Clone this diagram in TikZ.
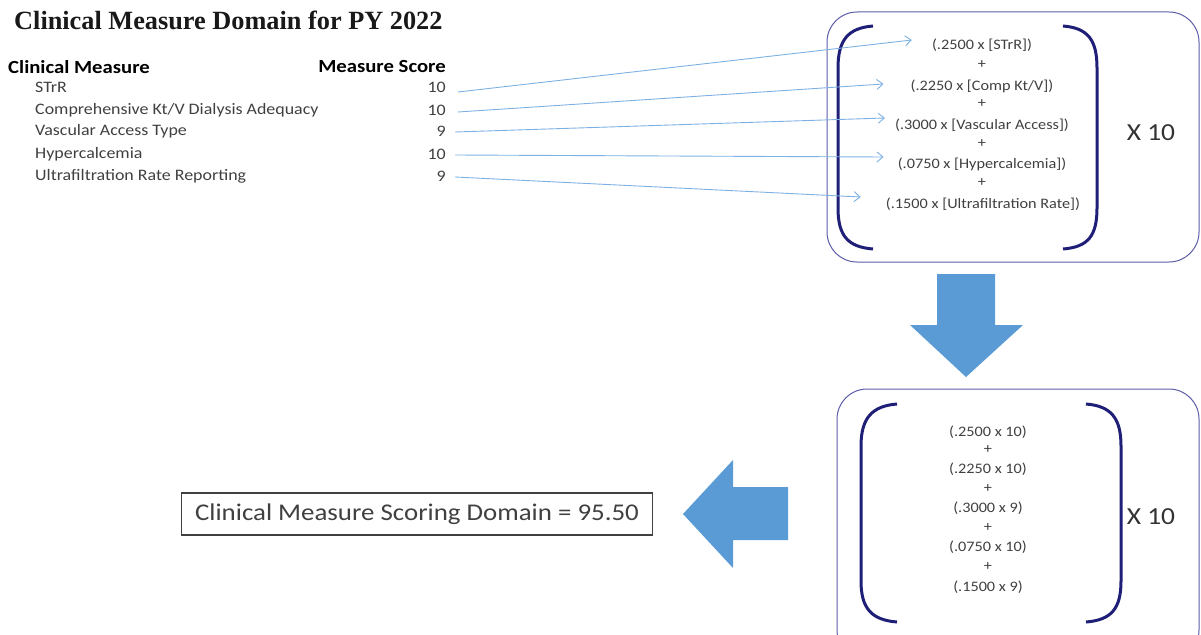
\documentclass[tikz,border=0pt]{standalone}
\usepackage{fontspec}
\setmainfont{Carlito}[FakeStretch=1.12]
\newfontfamily\titlefont{Liberation Serif}
\usetikzlibrary{arrows.meta,calc}

\definecolor{linkblue}{HTML}{7DB1E3}
\definecolor{blockblue}{HTML}{5B9BD5}
\definecolor{frameblue}{HTML}{5C5CA8}
\definecolor{navy}{HTML}{1F1F78}
\definecolor{txtgray}{HTML}{404040}

\begin{document}
\begin{tikzpicture}[x=1pt,y=-1pt,
    item/.style={anchor=west,inner sep=0pt,text=txtgray,font=\fontsize{16}{18}\selectfont},
    score/.style={anchor=east,inner sep=0pt,text=txtgray,font=\fontsize{16}{18}\selectfont},
    head/.style={inner sep=0pt,font=\bfseries\fontsize{18.5}{21}\selectfont},
    term/.style={inner sep=0pt,text=txtgray,font=\fontsize{14.5}{16}\selectfont},
    times/.style={inner sep=0pt,text=black!80,font=\fontsize{24.5}{28}\selectfont},
    link/.style={linkblue,line width=0.9pt,-{Straight Barb[length=6pt,width=10pt]}},
    frame/.style={frameblue,line width=1pt,rounded corners=30pt},
    paren/.style={navy,line width=3pt},
    block/.style={fill=blockblue,draw=none}]
    \useasboundingbox (0,0) rectangle (1201,634);

    % table of measures
    \draw (14,20) node[anchor=west,inner sep=0pt,text=black!90,
        font=\titlefont\bfseries\fontsize{26.3}{30}\selectfont] (title) {Clinical Measure Domain for PY 2022};
    \draw (8,67) node[head,anchor=west] (hmeasure) {Clinical Measure};
    \draw (446,67) node[head,anchor=east] (hscore) {Measure Score};

    \draw (35,87) node[item] (m1) {STrR};
    \draw (35,110) node[item] (m2) {Comprehensive Kt/V Dialysis Adequacy};
    \draw (35,131) node[item] (m3) {Vascular Access Type};
    \draw (35,154) node[item] (m4) {Hypercalcemia};
    \draw (35,176) node[item] (m5) {Ultrafiltration Rate Reporting};

    \draw (446,87) node[score] (s1) {10};
    \draw (446,110) node[score] (s2) {10};
    \draw (446,131) node[score] (s3) {9};
    \draw (446,154) node[score] (s4) {10};
    \draw (446,176) node[score] (s5) {9};

    % weighted formula
    \draw[frame] (827,12) rectangle (1199,262);
    \draw[paren] (873,26) .. controls (848,28) and (838,40) .. (838,68) -- (838,208)
        .. controls (838,236) and (848,247) .. (873,249);
    \draw[paren] (1063,26) .. controls (1088,28) and (1097,40) .. (1097,68) -- (1097,208)
        .. controls (1097,236) and (1088,247) .. (1063,249);

    \draw (982,45) node[term] (f1) {(.2500 x [STrR])};
    \draw (982,65) node[term] (p1) {+};
    \draw (982,86) node[term] (f2) {(.2250 x [Comp Kt/V])};
    \draw (982,104) node[term] (p2) {+};
    \draw (982,125) node[term] (f3) {(.3000 x [Vascular Access])};
    \draw (982,144) node[term] (p3) {+};
    \draw (982,164) node[term] (f4) {(.0750 x [Hypercalcemia])};
    \draw (982,183) node[term] (p4) {+};
    \draw (983,204) node[term] (f5) {(.1500 x [Ultrafiltration Rate])};
    \draw (1151,133) node[times] (x1) {X 10};

    \draw[link] ($(s1.east)+(12,5)$) -- ($(f1.west)+(-20,-5)$);
    \draw[link] ($(s2.east)+(12,2)$) -- ($(f2.west)+(-27,-2)$);
    \draw[link] ($(s3.east)+(9,1)$) -- ($(f3.west)+(-10,-7)$);
    \draw[link] ($(s4.east)+(9,1)$) -- ($(f4.west)+(-14,-7)$);
    \draw[link] ($(s5.east)+(9,1)$) -- ($(f5.west)+(-25,-7)$);

    \fill[block] (937,274) -- (995,274) -- (995,325) -- (1023,325) -- (966,377)
        -- (910,325) -- (937,325) -- cycle;

    % values filled in
    \begin{scope}
      \clip (0,0) rectangle (1201,634);
      \draw[frame] (837,389) rectangle (1199,660);
    \end{scope}
    \draw[paren] (897,404) .. controls (872,406) and (861,418) .. (861,446) -- (861,581)
        .. controls (861,609) and (872,620) .. (897,622);
    \draw[paren] (1086,404) .. controls (1111,406) and (1121,418) .. (1121,446) -- (1121,581)
        .. controls (1121,609) and (1111,620) .. (1086,622);

    \draw (988,432) node[term] (v1) {(.2500 x 10)};
    \draw (988,450) node[term] (q1) {+};
    \draw (988,469) node[term] (v2) {(.2250 x 10)};
    \draw (988,489) node[term] (q2) {+};
    \draw (988,508) node[term] (v3) {(.3000 x 9)};
    \draw (988,528) node[term] (q3) {+};
    \draw (988,547) node[term] (v4) {(.0750 x 10)};
    \draw (988,567) node[term] (q4) {+};
    \draw (988,587) node[term] (v5) {(.1500 x 9)};
    \draw (1151,517) node[times] (x2) {X 10};

    \fill[block] (788,487) -- (788,540) -- (733,540) -- (733,568) -- (683,514)
        -- (733,460) -- (733,487) -- cycle;

    \draw (417,514) node[draw=black!75,line width=1.2pt,minimum width=471pt,minimum height=42pt,
        text=txtgray,font=\fontsize{24}{28}\selectfont] (total) {Clinical Measure Scoring Domain = 95.50};
\end{tikzpicture}
\end{document}
